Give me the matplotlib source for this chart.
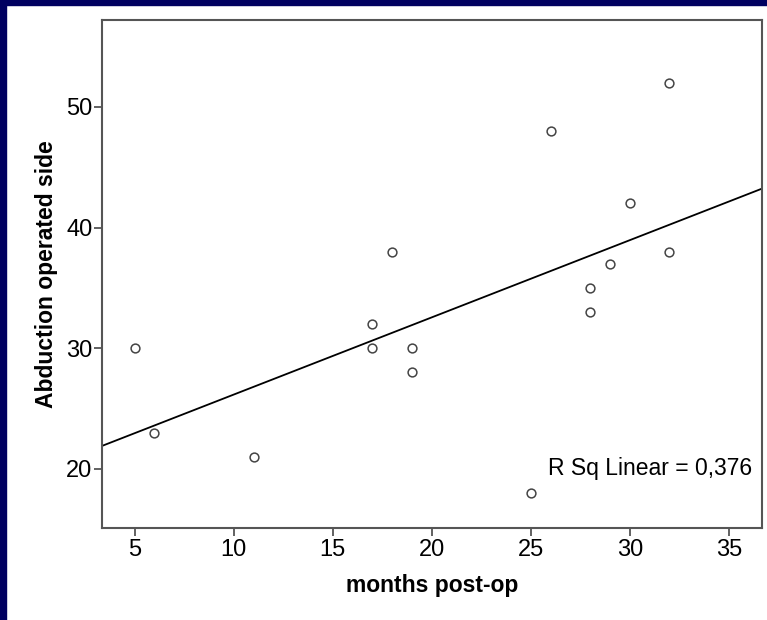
import numpy as np
import matplotlib.pyplot as plt
from matplotlib.patches import Rectangle

plt.rcParams['font.family'] = ['Liberation Sans', 'DejaVu Sans']

# data
months = [5, 6, 11, 17, 17, 18, 19, 19, 25, 26, 28, 28, 29, 30, 32, 32]
abduction = [30, 23, 21, 32, 30, 38, 30, 28, 18, 48, 35, 33, 37, 42, 52, 38]
xticks = [5, 10, 15, 20, 25, 30, 35]
yticks = [20, 30, 40, 50]
r2_text = 'R Sq Linear = 0,376'

fig = plt.figure(figsize=(7.67, 6.2), dpi=100)
fig.patch.set_facecolor('white')
# dark blue frame on left and top
fig.patches.append(Rectangle((0, 0), 6 / 767, 1, transform=fig.transFigure,
                             color='#000060', zorder=0))
fig.patches.append(Rectangle((0, 1 - 5 / 620), 1, 5 / 620, transform=fig.transFigure,
                             color='#000060', zorder=0))

ax = fig.add_axes([102 / 767, 1 - 528 / 620, 660 / 767, 508 / 620])
ax.scatter(months, abduction, s=40, facecolors='white', edgecolors='#444444',
           linewidths=1.1, zorder=3)

xlim = (3.35, 36.67)
coef = np.polyfit(months, abduction, 1)
xl = np.array(xlim)
ax.plot(xl, np.polyval(coef, xl), color='black', lw=1.3, zorder=2)

ax.set_xlim(xlim)
ax.set_ylim(15.1, 57.2)
ax.set_xticks(xticks)
ax.set_yticks(yticks)
ax.tick_params(labelsize=17, length=6, width=1.3, color='#555555', pad=2)
ax.tick_params(axis='y', pad=1)
for s in ax.spines.values():
    s.set_color('#555555')
    s.set_linewidth(1.5)

ax.set_xlabel('months post-op', fontsize=16.5, fontweight='bold', labelpad=9)
ax.set_ylabel('Abduction operated side', fontsize=16.5, fontweight='bold', labelpad=6)
ax.text(0.985, 0.117, r2_text, transform=ax.transAxes, ha='right', va='center',
        fontsize=16.5)

fig.savefig('out.png', dpi=100)
